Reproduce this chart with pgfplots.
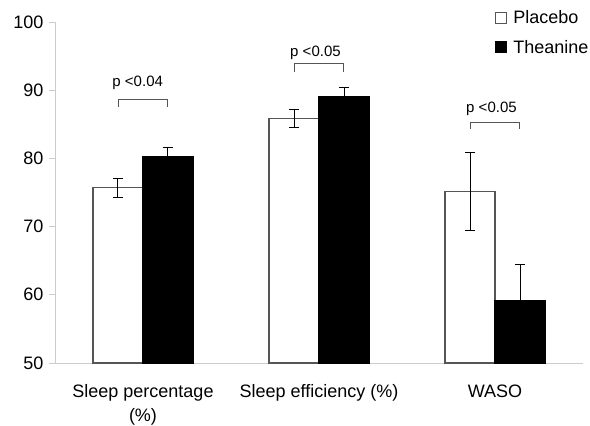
\documentclass[border=0pt]{standalone}
\usepackage{pgfplots}
\pgfplotsset{compat=1.18}
\usepackage{fontspec}
\setmainfont{Liberation Sans}
\definecolor{axgray}{HTML}{CCCCCC}
\definecolor{edgegray}{HTML}{555555}
\begin{document}
\begin{tikzpicture}
\begin{axis}[
  scale only axis,
  width=528bp, height=341bp,
  xmin=-0.5, xmax=2.5,
  ymin=50, ymax=100,
  ytick={50,60,...,100},
  xtick={0,1,2},
  xticklabels={{Sleep percentage\\(\%)},{Sleep efficiency (\%)},{WASO}},
  xticklabel style={align=center, font=\fontsize{18bp}{24bp}\selectfont, yshift=-12bp},
  yticklabel style={font=\fontsize{18bp}{22bp}\selectfont, xshift=-2bp},
  /pgf/number format/assume math mode=true,
  axis x line=bottom, axis y line=left,
  axis line style={axgray, line width=0.8bp, -},
  major x tick style={draw=none},
  major y tick style={axgray, line width=0.8bp},
  tick align=outside,
  major tick length=6bp,
  extra x ticks={0.5,1.5,2.5},
  extra x tick labels={},
  extra x tick style={major tick length=6bp, tick style={axgray, line width=0.8bp, draw=axgray}},
  ybar=0pt,
  bar width=50bp,
  legend style={draw=none, fill=none, at={(axis description cs:0.833,1.04)}, anchor=north west,
    font=\fontsize{18bp}{22bp}\selectfont, row sep=11bp, inner sep=0pt},
  legend cell align=left,
  legend image code/.code={\draw[#1, line width=0.8bp] (0bp,-5.5bp) rectangle (11bp,5.5bp); \path[draw=none, fill=none] (0bp,0bp) -- (16bp,0bp);},
  clip=false,
]
\addplot[draw=edgegray, fill=white, line width=1.2bp,
  error bars/.cd, y dir=both, y explicit,
  error bar style={black, line width=1bp},
  error mark options={rotate=90, mark size=5bp, black, line width=1bp}]
  coordinates {(0,75.7) +- (0,1.4) (1,85.8) +- (0,1.3) (2,75.2) +- (0,5.7)};
\addplot[draw=black, fill=black, line width=1.2bp,
  error bars/.cd, y dir=plus, y explicit,
  error bar style={black, line width=1bp},
  error mark options={rotate=90, mark size=5bp, black, line width=1bp}]
  coordinates {(0,80.2) +- (0,1.4) (1,89.1) +- (0,1.3) (2,59.1) +- (0,5.3)};
\legend{Placebo, Theanine}
% significance brackets
\draw[edgegray, line width=1bp] (axis cs:-0.142,87.5) -- (axis cs:-0.142,88.6) -- (axis cs:0.142,88.6) -- (axis cs:0.142,87.5);
\node[anchor=base, font=\fontsize{15bp}{18bp}\selectfont, inner sep=0pt] at (axis cs:-0.03,90.5) {p <0.04};
\draw[edgegray, line width=1bp] (axis cs:0.858,92.7) -- (axis cs:0.858,93.9) -- (axis cs:1.142,93.9) -- (axis cs:1.142,92.7);
\node[anchor=base, font=\fontsize{15bp}{18bp}\selectfont, inner sep=0pt] at (axis cs:0.98,94.9) {p <0.05};
\draw[edgegray, line width=1bp] (axis cs:1.858,84.3) -- (axis cs:1.858,85.2) -- (axis cs:2.142,85.2) -- (axis cs:2.142,84.3);
\node[anchor=base, font=\fontsize{15bp}{18bp}\selectfont, inner sep=0pt] at (axis cs:1.98,86.8) {p <0.05};
\end{axis}
\pgfresetboundingbox
\useasboundingbox ([shift={(-55bp,-63bp)}]current axis.south west) rectangle ([shift={(7bp,22bp)}]current axis.north east);
\end{tikzpicture}
\end{document}
